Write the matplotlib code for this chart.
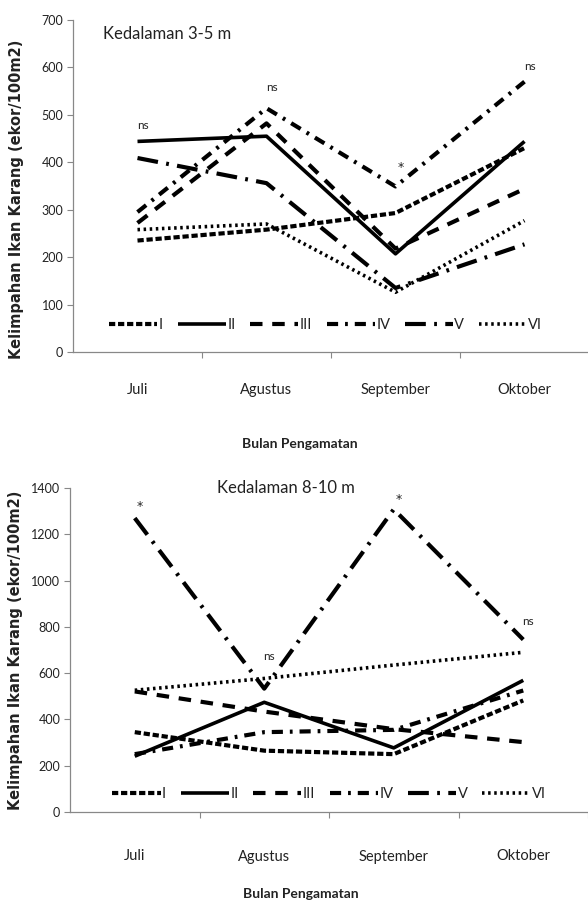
import matplotlib
matplotlib.use("Agg")
import matplotlib.pyplot as plt

months = ["Juli", "Agustus", "September", "Oktober"]
stations = ["I", "II", "III", "IV", "V", "VI"]

# Kedalaman 3-5 m
d35_I = [235, 258, 293, 430]
d35_II = [444, 455, 207, 444]
d35_III = [272, 482, 218, 344]
d35_IV = [295, 514, 349, 570]
d35_V = [409, 356, 135, 227]
d35_VI = [258, 270, 126, 277]
sig35 = ["ns", "ns", "*", "ns"]

# Kedalaman 8-10 m
d810_I = [345, 265, 250, 482]
d810_II = [241, 474, 277, 569]
d810_III = [521, 434, 358, 302]
d810_IV = [250, 345, 355, 525]
d810_V = [1270, 533, 1308, 745]
d810_VI = [526, 577, 635, 690]
sig810 = ["*", "ns", "*", "ns"]

plt.rcParams["lines.scale_dashes"] = False

styles = [
    dict(lw=3.0, dashes=(4.5, 2.0)),
    dict(lw=2.6, linestyle="-"),
    dict(lw=3.0, dashes=(9, 7)),
    dict(lw=3.0, dashes=(8, 5, 2, 5)),
    dict(lw=3.0, dashes=(15, 6, 2, 6)),
    dict(lw=2.6, dashes=(1.8, 2.6)),
]

txt = "#222222"
sans = ["Lato", "DejaVu Sans"]


def draw_panel(ax, series, sig, sig_y, ymax, ystep, title, title_xy, title_ha, leg_xy, xpad):
    x = list(range(len(months)))
    for name, vals, st in zip(stations, series, styles):
        ax.plot(x, vals, color="black", label=name, solid_capstyle="butt",
                dash_capstyle="butt", **st)
    for i, (s, y) in enumerate(zip(sig, sig_y)):
        if s == "ns":
            ax.text(i + 0.04, y, s, ha="center", va="center", fontsize=8.5,
                    color=txt, family=sans)
        else:
            ax.text(i + 0.04, y, s, ha="center", va="center", fontsize=9,
                    color=txt, family="DejaVu Sans")
    ax.set_xlim(-0.5, 3.5)
    ax.set_ylim(0, ymax)
    ax.set_yticks(range(0, ymax + 1, ystep))
    ax.set_xticks(x)
    ax.set_xticklabels(months, fontsize=10.5, color=txt, family=sans)
    ax.set_xticks([0.5, 1.5, 2.5, 3.5], minor=True)
    ax.tick_params(axis="x", which="major", length=0, pad=xpad)
    ax.tick_params(axis="x", which="minor", length=4, color="#888888", width=0.8)
    ax.tick_params(axis="y", length=4, color="#888888", width=0.8, labelsize=9,
                   labelcolor=txt, pad=3)
    for lab in ax.get_yticklabels():
        lab.set_family(sans)
    for sp in ["top", "right"]:
        ax.spines[sp].set_visible(False)
    for sp in ["left", "bottom"]:
        ax.spines[sp].set_color("#888888")
        ax.spines[sp].set_linewidth(0.9)
    ax.set_ylabel("Kelimpahan Ikan Karang (ekor/100m2)", fontsize=10.5, fontweight="bold",
                  color=txt, family="DejaVu Sans")
    ax.set_xlabel("Bulan Pengamatan", fontsize=10, fontweight="bold", color=txt, family=sans)
    ax.text(title_xy[0], title_xy[1], title, ha=title_ha, va="center", fontsize=12,
            color=txt, family=sans)
    leg = ax.legend(ncol=6, frameon=False, loc="center", bbox_to_anchor=leg_xy,
                    handlelength=3.3, handletextpad=0.1, columnspacing=1.0,
                    prop=dict(family=sans, size=10.5))
    for t in leg.get_texts():
        t.set_color(txt)


fig = plt.figure(figsize=(5.88, 9.06), dpi=100)

ax1 = fig.add_axes([73 / 588, 1 - 352 / 906, 516 / 588, 332 / 906])
draw_panel(ax1, [d35_I, d35_II, d35_III, d35_IV, d35_V, d35_VI], sig35,
           [478, 558, 390, 603], 700, 100, "Kedalaman 3-5 m", (-0.27, 670), "left",
           (0.49, 0.08), 22)
ax1.yaxis.set_label_coords(-0.095, 0.46)
ax1.xaxis.set_label_coords(0.44, -0.26)

ax2 = fig.add_axes([70 / 588, 1 - 812 / 906, 518 / 588, 324 / 906])
draw_panel(ax2, [d810_I, d810_II, d810_III, d810_IV, d810_V, d810_VI], sig810,
           [1318, 672, 1352, 824], 1400, 200, "Kedalaman 8-10 m", (1.17, 1400), "center",
           (0.5, 0.055), 27)
ax2.yaxis.set_label_coords(-0.09, 0.5)
ax2.xaxis.set_label_coords(0.445, -0.235)

fig.savefig("out.png", dpi=100, facecolor="white")
plt.close(fig)
